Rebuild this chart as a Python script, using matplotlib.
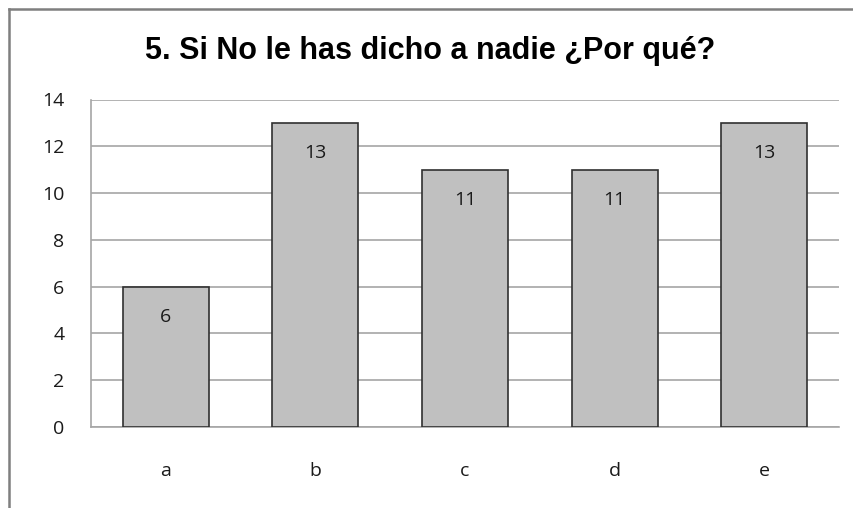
import matplotlib.pyplot as plt
from matplotlib.lines import Line2D

# chart data
categories = ['a', 'b', 'c', 'd', 'e']
values = [6, 13, 11, 11, 13]
yticks = [0, 2, 4, 6, 8, 10, 12, 14]
title = '5. Si No le has dicho a nadie ¿Por qué?'

fig = plt.figure(figsize=(8.54, 5.08), dpi=100)
ax = fig.add_axes([91 / 854, 1 - 427 / 508, 748 / 854, 327.5 / 508])

x = list(range(len(categories)))
bars = ax.bar(x, values, width=0.575, color='#C0C0C0', edgecolor='#303030',
              linewidth=1.2, zorder=3)

for xi, v in zip(x, values):
    ax.annotate(str(v), (xi, v), xytext=(0, -22), textcoords='offset points',
                ha='center', va='center', fontsize=14, family='Open Sans', color='#1a1a1a')

ax.set_xlim(-0.5, len(categories) - 0.5)
ax.set_ylim(0, 14)
ax.set_yticks(yticks)
ax.set_xticks(x)
ax.set_xticklabels(categories)
ax.grid(axis='y', color='#A6A6A6', linewidth=1.2, zorder=0)
ax.tick_params(axis='both', length=0, labelsize=14, colors='#1a1a1a')
ax.tick_params(axis='y', pad=19)
ax.tick_params(axis='x', pad=25)
for lab in ax.get_xticklabels() + ax.get_yticklabels():
    lab.set_family('Open Sans')

for s in ['top', 'right']:
    ax.spines[s].set_visible(False)
ax.spines['left'].set_color('#A6A6A6')
ax.spines['bottom'].set_color('#A6A6A6')
ax.spines['left'].set_linewidth(1.2)
ax.spines['bottom'].set_linewidth(1.2)

fig.text(430 / 854, 1 - 51 / 508, title, ha='center', va='center',
         fontsize=22, fontweight='bold', family='Liberation Sans')

# outer frame (only top and left visible)
fig.add_artist(Line2D([9 / 854, 1], [1 - 9 / 508, 1 - 9 / 508], color='#7F7F7F', linewidth=1.8,
                      transform=fig.transFigure))
fig.add_artist(Line2D([9 / 854, 9 / 854], [0, 1 - 9 / 508], color='#7F7F7F', linewidth=1.8,
                      transform=fig.transFigure))

fig.savefig('out.png', dpi=100)
